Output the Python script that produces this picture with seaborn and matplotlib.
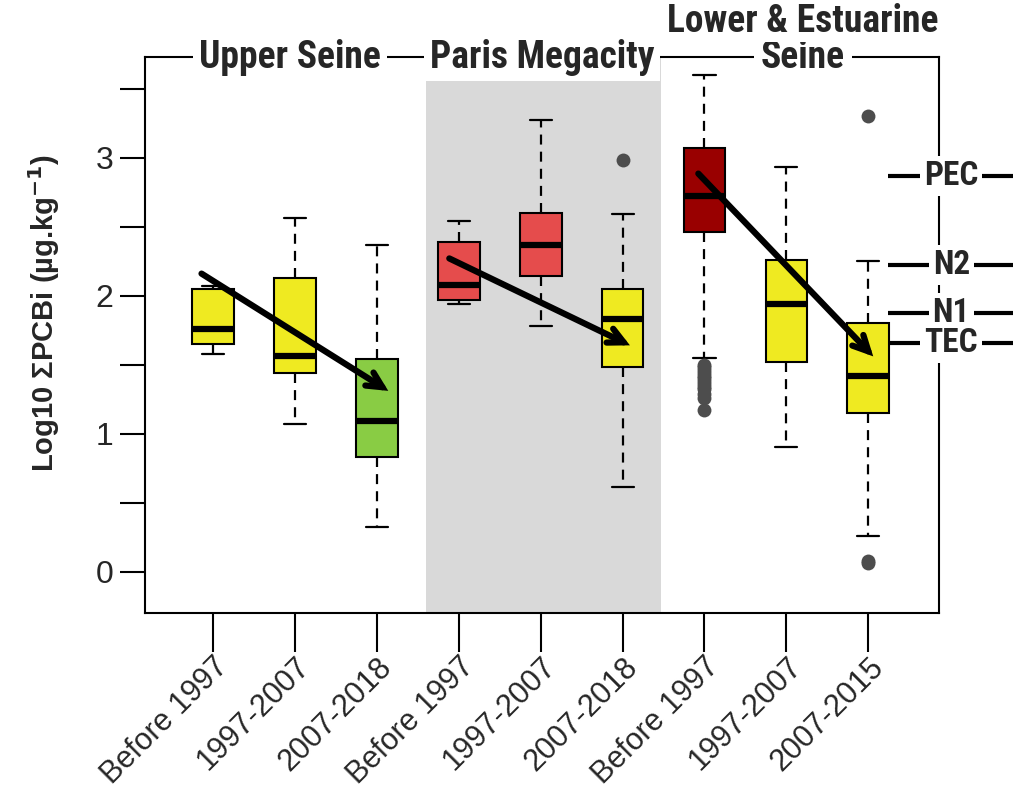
import numpy as np
import pandas as pd
import matplotlib
matplotlib.use("Agg")
import matplotlib.pyplot as plt
import matplotlib.transforms as mtransforms
import seaborn as sns

# ---------------- data ----------------
periods = ["Before 1997", "1997-2007", "2007-2018",
           "Before 1997", "1997-2007", "2007-2018",
           "Before 1997", "1997-2007", "2007-2015"]
groups = ["g1", "g2", "g3", "g4", "g5", "g6", "g7", "g8", "g9"]
box_colors = ["#EFEA21", "#EFEA21", "#89CC44",
              "#E54C4C", "#E54C4C", "#EFEA21",
              "#990000", "#EFEA21", "#EFEA21"]
whislo = [1.58, 1.07, 0.32, 1.94, 1.78, 0.61, 1.55, 0.90, 0.26]
q1 = [1.65, 1.44, 0.83, 1.97, 2.14, 1.48, 2.46, 1.52, 1.15]
med = [1.76, 1.56, 1.09, 2.08, 2.37, 1.83, 2.72, 1.94, 1.42]
q3 = [2.05, 2.13, 1.54, 2.39, 2.60, 2.05, 3.07, 2.26, 1.80]
whishi = [2.07, 2.56, 2.37, 2.54, 3.27, 2.59, 3.60, 2.93, 2.25]
outlier_group = ["g6",
                 "g7", "g7", "g7", "g7", "g7", "g7", "g7", "g7", "g7", "g7", "g7", "g7", "g7",
                 "g9", "g9", "g9"]
outlier_value = [2.98,
                 1.50, 1.48, 1.46, 1.44, 1.42, 1.40, 1.38, 1.36, 1.34, 1.32, 1.29, 1.26, 1.17,
                 3.30, 0.08, 0.06]
region_names = ["Upper Seine", "Paris Megacity", "Lower & Estuarine\nSeine"]
threshold_names = ["PEC", "N2", "N1", "TEC"]
threshold_values = [2.87, 2.22, 1.875, 1.655]
# trend arrows: start / end in category units and data units
arrow_x0 = [-0.14, 2.885, 5.925]
arrow_y0 = [2.16, 2.27, 2.885]
arrow_x1 = [2.14, 5.09, 8.06]
arrow_y1 = [1.31, 1.64, 1.56]

# long table: five values per box reproduce its quartiles & whiskers
rows = []
for g, a, b, c, d, e in zip(groups, whislo, q1, med, q3, whishi):
    for v in (a, b, c, d, e):
        rows.append({"grp": g, "val": v})
df = pd.DataFrame(rows)
df_out = pd.DataFrame({"grp": outlier_group, "val": outlier_value})

# ---------------- figure ----------------
sns.set_style("white")
plt.rcParams["font.family"] = ["Liberation Sans", "DejaVu Sans"]
cond = ["Roboto Condensed", "Roboto", "DejaVu Sans"]

fig = plt.figure(figsize=(10.25, 7.93), dpi=100)
ax = fig.add_axes([145 / 1025, 1 - 613 / 793, (939 - 145) / 1025, (613 - 57) / 793])

ax.axvspan(2.60, 5.466, color="#D9D9D9", zorder=0, lw=0)

sns.boxplot(data=df, x="grp", y="val", hue="grp", order=groups, hue_order=groups,
            palette=box_colors, saturation=1, legend=False, width=0.51,
            whis=(0, 100), showfliers=False, linecolor="black", linewidth=1.5,
            medianprops={"linewidth": 4.5, "color": "black", "solid_capstyle": "butt"},
            whiskerprops={"linestyle": (0, (4.5, 3.2)), "linewidth": 1.6},
            capprops={"linewidth": 1.6}, capwidths=0.27, ax=ax, zorder=2)

sns.stripplot(data=df_out, x="grp", y="val", order=groups, jitter=False,
              color="#4D4D4D", size=10, linewidth=0, ax=ax, zorder=3)

for xa, ya, xb, yb in zip(arrow_x0, arrow_y0, arrow_x1, arrow_y1):
    ax.annotate("", xy=(xb, yb), xytext=(xa, ya),
                arrowprops=dict(arrowstyle="->,head_length=1.1,head_width=0.55",
                                lw=4.5, color="black", shrinkA=0, shrinkB=0,
                                capstyle="round", joinstyle="miter"),
                zorder=5)

ax.set_xlim(-0.83, 8.863)
ax.set_ylim(-0.30, 3.73)

for sp in ax.spines.values():
    sp.set_visible(True)
    sp.set_linewidth(1.5)
    sp.set_color("black")

ax.set_yticks([0, 1, 2, 3])
ax.set_yticks([0.5, 1.5, 2.5, 3.5], minor=True)
ax.tick_params(axis="y", which="both", left=True, length=18, width=1.5,
               labelsize=23, pad=5, color="black")
ax.set_xticks(range(len(groups)))
ax.set_xticklabels(periods, rotation=45, ha="right", va="top",
                   rotation_mode="anchor", fontsize=22)
ax.tick_params(axis="x", which="major", bottom=True, length=28, width=1.5,
               pad=0, color="black")
ax.set_xlabel("")
ax.set_ylabel(r"Log10 ΣPCBi (µg.kg$^{\mathbf{-1}}$)", fontsize=21, fontweight="bold")
ax.yaxis.set_label_coords(-0.104, 0.54)

# region titles sitting on the top frame line
tr = mtransforms.blended_transform_factory(ax.transData, ax.transAxes)
title_x = [0.94, 4.02, 7.2]
for name, xx in zip(region_names, title_x):
    lines = name.split("\n")
    if len(lines) == 2:
        ax.text(xx, 1.0, lines[1], transform=tr, ha="center", va="center",
                fontsize=27, family=cond, fontweight="semibold", clip_on=False, zorder=6,
                bbox=dict(facecolor="white", edgecolor="none", pad=5))
        ax.text(xx, 1.0 + 0.063, lines[0], transform=tr, ha="center", va="center",
                fontsize=27, family=cond, fontweight="semibold", clip_on=False, zorder=6,
                bbox=dict(facecolor="white", edgecolor="none", pad=1))
    else:
        ax.text(xx, 1.0, name, transform=tr, ha="center", va="center",
                fontsize=27, family=cond, fontweight="semibold", clip_on=False, zorder=6,
                bbox=dict(facecolor="white", edgecolor="none", pad=4))

# threshold labels straddling the right frame
trr = mtransforms.blended_transform_factory(ax.transAxes, ax.transData)
for name, val in zip(threshold_names, threshold_values):
    ax.plot([0.936, 1.093], [val, val], transform=trr, color="black", lw=3,
            clip_on=False, zorder=5, solid_capstyle="butt")
    ax.text(1.0155, val, name, transform=trr, ha="center", va="center",
            fontsize=24, family=cond, fontweight="semibold", clip_on=False, zorder=6,
            bbox=dict(facecolor="white", edgecolor="none", pad=3))

fig.savefig("out.png", dpi=100)
